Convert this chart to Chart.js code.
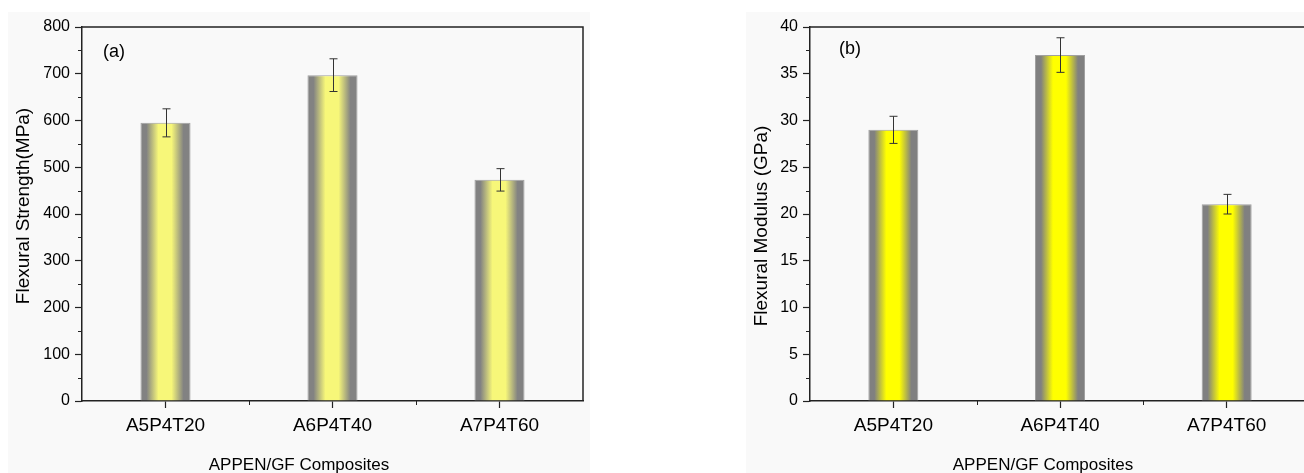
<!DOCTYPE html>
<html><head><meta charset="utf-8">
<script src="https://cdn.jsdelivr.net/npm/chart.js@4/dist/chart.umd.min.js"></script>
<style>
html,body{margin:0;padding:0;background:#fff;overflow:hidden;width:1304px;height:473px;}
.panel{position:absolute;background:#f9f9f9;}
#wa{left:8px;top:12px;width:582px;height:470px;}
#wb{left:746px;top:12px;width:594px;height:470px;}
canvas{display:block;}
</style></head><body>
<div id="wa" class="panel"><canvas id="ca" width="582" height="470"></canvas></div>
<div id="wb" class="panel"><canvas id="cb" width="594" height="470"></canvas></div>
<script>
// ---- data ----
const categories = ['A5P4T20', 'A6P4T40', 'A7P4T60'];
const strengthValues = [595, 697, 473];
const strengthErrors = [30, 35, 24];
const modulusValues = [29.0, 37.0, 21.05];
const modulusErrors = [1.45, 1.85, 1.05];
const strengthTicks = [0, 100, 200, 300, 400, 500, 600, 700, 800];
const strengthMinorTicks = [50, 150, 250, 350, 450, 550, 650, 750];
const modulusTicks = [0, 5, 10, 15, 20, 25, 30, 35, 40];
const modulusMinorTicks = [2.5, 7.5, 12.5, 17.5, 22.5, 27.5, 32.5, 37.5];
const xTitle = 'APPEN/GF Composites';
const strengthTitle = 'Flexural Strength(MPa)';
const modulusTitle = 'Flexural Modulus (GPa)';

Chart.defaults.font.family = '"Liberation Sans", Arial, sans-serif';
Chart.defaults.color = '#000';

const BAR_PCT = 0.3;
const FONT = '"Liberation Sans", Arial, sans-serif';

function barGradient(gray, yellow) {
  return (ctx) => {
    const chart = ctx.chart;
    const area = chart.chartArea;
    if (!area || ctx.dataIndex === undefined) return yellow;
    const xs = chart.scales.x;
    const cx = xs.getPixelForValue(ctx.dataIndex);
    const half = (area.right - area.left) / categories.length * BAR_PCT / 2;
    const g = chart.ctx.createLinearGradient(cx - half, 0, cx + half, 0);
    g.addColorStop(0, gray);
    g.addColorStop(0.12, gray);
    g.addColorStop(0.36, yellow);
    g.addColorStop(0.62, yellow);
    g.addColorStop(0.86, gray);
    g.addColorStop(1, gray);
    return g;
  };
}

const decorPlugin = {
  id: 'decor',
  afterDatasetsDraw(chart, args, opts) {
    const c = chart.ctx;
    const ys = chart.scales.y;
    const meta = chart.getDatasetMeta(0);
    c.save();
    c.strokeStyle = '#333';
    c.lineWidth = 1;
    opts.values.forEach((v, i) => {
      const x = Math.round(meta.data[i].x) + 0.5;
      const yt = ys.getPixelForValue(v + opts.errors[i]);
      const yb = ys.getPixelForValue(v - opts.errors[i]);
      c.beginPath();
      c.moveTo(x, yt); c.lineTo(x, yb);
      c.moveTo(x - 4, yt); c.lineTo(x + 4, yt);
      c.moveTo(x - 4, yb); c.lineTo(x + 4, yb);
      c.stroke();
    });
    c.restore();
  },
  afterDraw(chart, args, opts) {
    const c = chart.ctx;
    const area = chart.chartArea;
    const xs = chart.scales.x, ys = chart.scales.y;
    c.save();
    c.strokeStyle = '#222';
    c.lineWidth = 1.5;
    c.beginPath();
    c.moveTo(area.left, area.top);
    c.lineTo(area.right, area.top);
    c.lineTo(area.right, area.bottom);
    c.stroke();
    c.lineWidth = 1;
    c.beginPath();
    opts.minor.forEach(v => {
      const y = Math.round(ys.getPixelForValue(v)) + 0.5;
      c.moveTo(area.left - 4, y); c.lineTo(area.left, y);
    });
    for (let i = 0; i < categories.length - 1; i++) {
      const x = Math.round((xs.getPixelForValue(i) + xs.getPixelForValue(i + 1)) / 2) + 0.5;
      c.moveTo(x, area.bottom); c.lineTo(x, area.bottom + 4);
    }
    c.stroke();
    c.fillStyle = '#000';
    c.font = '18px ' + FONT;
    c.textBaseline = 'middle';
    c.textAlign = 'left';
    c.fillText(opts.label, area.left + opts.labelDx, area.top + opts.labelDy);
    c.font = '17px ' + FONT;
    c.textAlign = 'center';
    c.fillText(xTitle, chart.width / 2, opts.xTitleY);
    c.translate(opts.yTitleX, opts.yTitleY);
    c.rotate(-Math.PI / 2);
    c.font = '19px ' + FONT;
    c.fillText(opts.yTitle, 0, 0);
    c.restore();
  }
};

function makeChart(id, cfg) {
  return new Chart(document.getElementById(id), {
    type: 'bar',
    data: {
      labels: categories,
      datasets: [{
        data: cfg.values,
        backgroundColor: barGradient(cfg.gray, cfg.yellow),
        borderColor: '#a0a0a0',
        borderWidth: 1,
        borderSkipped: 'start',
        barPercentage: BAR_PCT,
        categoryPercentage: 1.0
      }]
    },
    options: {
      responsive: false,
      animation: false,
      devicePixelRatio: 1,
      layout: { padding: { left: 0, right: cfg.padRight, top: 15, bottom: 0 } },
      plugins: {
        legend: { display: false },
        tooltip: { enabled: false },
        decor: {
          values: cfg.values, errors: cfg.errors, minor: cfg.minor,
          label: cfg.label, labelDx: cfg.labelDx, labelDy: cfg.labelDy, xTitleY: 453,
          yTitle: cfg.yTitle, yTitleX: 16, yTitleY: cfg.yTitleY
        }
      },
      scales: {
        x: {
          type: 'category',
          offset: true,
          grid: { display: true, drawOnChartArea: false, drawTicks: true, offset: false, tickLength: 7, tickColor: '#222', tickWidth: 1.2 },
          border: { display: true, color: '#222', width: 1.5 },
          ticks: { font: { size: 19 }, color: '#000', padding: 6, maxRotation: 0, autoSkip: false },
          afterFit: (s) => { s.height = 81; }
        },
        y: {
          min: cfg.ticks[0],
          max: cfg.ticks[cfg.ticks.length - 1],
          afterBuildTicks: (s) => { s.ticks = cfg.ticks.map(v => ({ value: v })); },
          grid: { display: true, drawOnChartArea: false, drawTicks: true, tickLength: 7, tickColor: '#222', tickWidth: 1.2 },
          border: { display: true, color: '#222', width: 1.5 },
          ticks: { font: { size: 16 }, color: '#000', padding: 5 },
          afterFit: (s) => { s.width = cfg.yWidth; }
        }
      }
    },
    plugins: [decorPlugin]
  });
}

makeChart('ca', {
  values: strengthValues, errors: strengthErrors, minor: strengthMinorTicks,
  ticks: strengthTicks, yTitle: strengthTitle, gray: '#828282', yellow: '#f7f779',
  yWidth: 74, padRight: 7, label: '(a)', labelDx: 21, labelDy: 25, yTitleY: 194
});
makeChart('cb', {
  values: modulusValues, errors: modulusErrors, minor: modulusMinorTicks,
  ticks: modulusTicks, yTitle: modulusTitle, gray: '#808080', yellow: '#ffff00',
  yWidth: 64, padRight: 30, label: '(b)', labelDx: 29, labelDy: 22, yTitleY: 214
});
</script>
</body></html>
